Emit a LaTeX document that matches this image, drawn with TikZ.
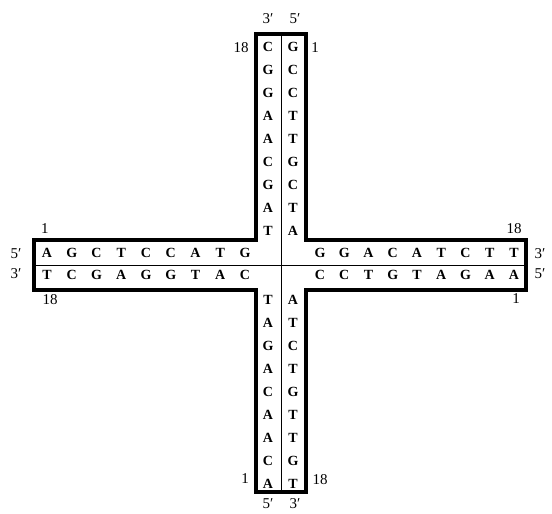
\documentclass[tikz,border=0pt]{standalone}
\usepackage{fontspec}
\setmainfont{Liberation Serif}

\begin{document}
\begin{tikzpicture}[x=1pt, y=-1pt]
    % Define arm geometry
    \def\armLeft{34}
    \def\armRight{526}
    \def\armTop{34}
    \def\armBottom{492}
    \def\stemLeft{256}
    \def\stemRight{306}
    \def\bandTop{240}
    \def\bandBottom{290}

    \definecolor{borderColour}{HTML}{000000}

    \tikzset{
        base/.style={font=\fontsize{14}{16}\selectfont\bfseries, inner sep=0pt},
        endlabel/.style={font=\fontsize{15}{17}\selectfont, inner sep=0pt}
    }

    \useasboundingbox (0,0) rectangle (552,514);

    % Draw thin separators between the strands
    \draw[borderColour, line width=0.9pt] (281,\armTop) -- (281,\armBottom);
    \draw[borderColour, line width=0.9pt] (\armLeft,265) -- (\armRight,265);

    % Draw the outline of the junction
    \draw[borderColour, line width=3.4pt, line join=miter]
        (\stemLeft,\armTop) -- (\stemRight,\armTop) -- (\stemRight,\bandTop)
        -- (\armRight,\bandTop) -- (\armRight,\bandBottom) -- (\stemRight,\bandBottom)
        -- (\stemRight,\armBottom) -- (\stemLeft,\armBottom) -- (\stemLeft,\bandBottom)
        -- (\armLeft,\bandBottom) -- (\armLeft,\bandTop) -- (\stemLeft,\bandTop) -- cycle;

    % Top arm
    \foreach \b [count=\i] in {C,G,G,A,A,C,G,A,T}
        \node[base] (topL\i) at (268, 47+\i*23-23) {\b};
    \foreach \b [count=\i] in {G,C,C,T,T,G,C,T,A}
        \node[base] (topR\i) at (293, 47+\i*23-23) {\b};

    % Bottom arm
    \foreach \b [count=\i] in {T,A,G,A,C,A,A,C,A}
        \node[base] (botL\i) at (268, 300+\i*23-23) {\b};
    \foreach \b [count=\i] in {A,T,C,T,G,T,T,G,T}
        \node[base] (botR\i) at (293, 300+\i*23-23) {\b};

    % Left arm
    \foreach \b [count=\i] in {A,G,C,T,C,C,A,T,G}
        \node[base] (leftT\i) at (47+\i*24.75-24.75, 253) {\b};
    \foreach \b [count=\i] in {T,C,G,A,G,G,T,A,C}
        \node[base] (leftB\i) at (47+\i*24.75-24.75, 275) {\b};

    % Right arm
    \foreach \b [count=\i] in {G,G,A,C,A,T,C,T,T}
        \node[base] (rightT\i) at (320+\i*24.25-24.25, 253) {\b};
    \foreach \b [count=\i] in {C,C,T,G,T,A,G,A,A}
        \node[base] (rightB\i) at (320+\i*24.25-24.25, 275) {\b};

    % Strand ends
    \node[endlabel] (topThree) at (268,19) {3′};
    \node[endlabel] (topFive) at (295,19) {5′};
    \node[endlabel] (topEighteen) at (241,48) {18};
    \node[endlabel] (topOne) at (315,48) {1};

    \node[endlabel] (leftOne) at (45,229) {1};
    \node[endlabel] (leftFive) at (16,254) {5′};
    \node[endlabel] (leftThree) at (16,274) {3′};
    \node[endlabel] (leftEighteen) at (50,300) {18};

    \node[endlabel] (rightEighteen) at (514,229) {18};
    \node[endlabel] (rightThree) at (540,254) {3′};
    \node[endlabel] (rightFive) at (540,274) {5′};
    \node[endlabel] (rightOne) at (516,299) {1};

    \node[endlabel] (botOne) at (245,479) {1};
    \node[endlabel] (botEighteen) at (320,480) {18};
    \node[endlabel] (botFive) at (268,504) {5′};
    \node[endlabel] (botThree) at (295,504) {3′};
\end{tikzpicture}
\end{document}
